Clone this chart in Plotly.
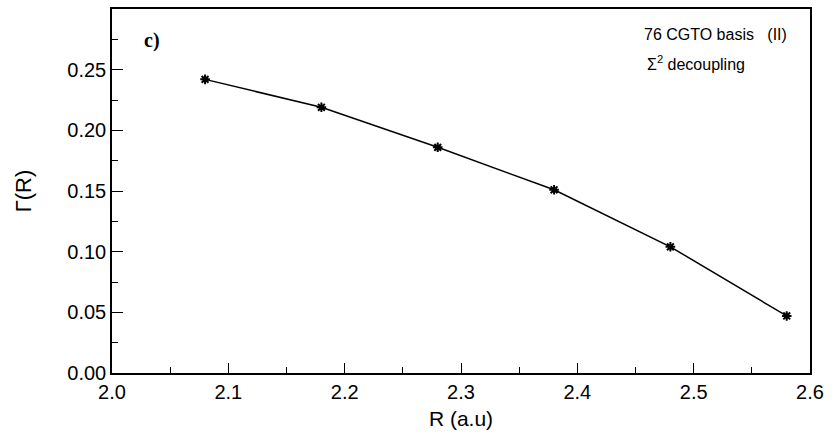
import plotly.graph_objects as go

R = [2.08, 2.18, 2.28, 2.38, 2.48, 2.58]
gamma = [0.242, 0.219, 0.186, 0.151, 0.104, 0.047]
x_ticks = [2.0, 2.1, 2.2, 2.3, 2.4, 2.5, 2.6]
y_ticks = [0.00, 0.05, 0.10, 0.15, 0.20, 0.25]

fig = go.Figure()
fig.add_trace(go.Scatter(
    x=R, y=gamma, mode="lines+markers",
    line=dict(color="black", width=1.5),
    marker=dict(symbol="asterisk-open", size=8, color="black",
                line=dict(color="black", width=2)),
    showlegend=False,
))

font = "Liberation Sans, Arial, sans-serif"
fig.update_layout(
    width=836, height=448,
    margin=dict(l=112, r=26, t=7, b=75),
    paper_bgcolor="white", plot_bgcolor="white",
    font=dict(family=font, size=20, color="black"),
    xaxis=dict(
        range=[2.0, 2.6], tickvals=x_ticks, ticktext=[f"{v:.1f}" for v in x_ticks],
        tickfont=dict(size=20),
        ticks="inside", ticklen=10, tickwidth=1, tickcolor="black",
        minor=dict(ticks="inside", dtick=0.05, ticklen=6, tickcolor="black"),
        showline=True, linecolor="black", linewidth=1.5, mirror=True,
        showgrid=False, zeroline=False,
        title=dict(text="R (a.u)", font=dict(size=21), standoff=10),
    ),
    yaxis=dict(
        range=[0.0, 0.30], tickvals=y_ticks, ticktext=[f"{v:.2f}" for v in y_ticks],
        tickfont=dict(size=20),
        ticks="inside", ticklen=11, tickwidth=1, tickcolor="black",
        minor=dict(ticks="inside", dtick=0.025, ticklen=6, tickcolor="black"),
        showline=True, linecolor="black", linewidth=1.5, mirror=True,
        showgrid=False, zeroline=False,
        title=dict(text="Γ(R)", font=dict(size=22), standoff=30),
    ),
    annotations=[
        dict(x=0.043, y=0.914, xref="paper", yref="paper", text="<b>c)</b>",
             showarrow=False, xanchor="left", yanchor="middle",
             font=dict(family="Liberation Serif, serif", size=20)),
        dict(x=0.76, y=0.931, xref="paper", yref="paper",
             text="76 CGTO basis&nbsp;&nbsp;&nbsp;(II)",
             showarrow=False, xanchor="left", yanchor="middle",
             font=dict(size=16)),
        dict(x=0.763, y=0.852, xref="paper", yref="paper",
             text="Σ<sup>2</sup> decoupling",
             showarrow=False, xanchor="left", yanchor="middle",
             font=dict(size=16)),
    ],
)

fig.write_html("out.html")
